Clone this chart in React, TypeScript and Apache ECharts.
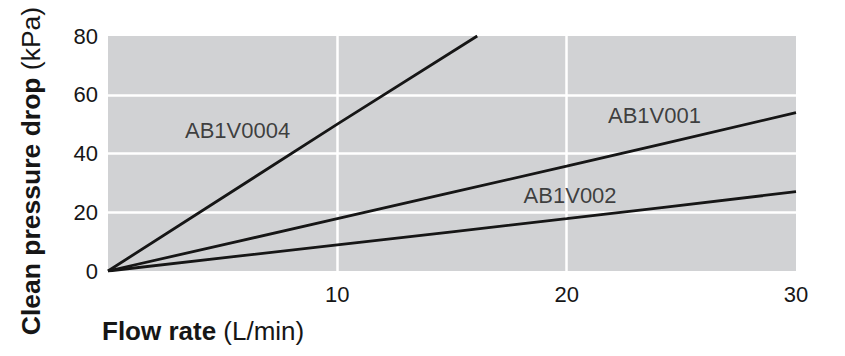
import React, { useEffect, useRef } from "react";
import * as echarts from "echarts";

const xTicks = [0, 10, 20, 30];
const yTicks = [0, 20, 40, 60, 80];

const ab1v0004: [number, number][] = [[0, 0], [10, 50], [16.1, 80]];
const ab1v001: [number, number][] = [[0, 0], [10, 17.8], [20, 35.7], [30, 53.9]];
const ab1v002: [number, number][] = [[0, 0], [10, 8.9], [20, 17.8], [30, 27]];

const seriesLabels = [
  { name: "AB1V0004", value: [5.65, 48.0] },
  { name: "AB1V001", value: [23.83, 52.9] },
  { name: "AB1V002", value: [20.15, 25.7] },
];

const FONT = "'Liberation Sans', Arial, Helvetica, sans-serif";
const INK = "#161616";

export default function App() {
  const ref = useRef<HTMLDivElement>(null);
  useEffect(() => {
    if (!ref.current) return;
    const chart = echarts.init(ref.current, undefined, { renderer: "svg" });
    const lineStyle = { color: INK, width: 2.8 };
    chart.setOption({
      animation: false,
      textStyle: { fontFamily: FONT },
      grid: {
        left: 108,
        right: 49,
        top: 36,
        bottom: 85,
        show: true,
        backgroundColor: "#d1d2d4",
        borderWidth: 0,
        outerBoundsMode: "none",
        containLabel: false,
      },
      graphic: [
        {
          type: "text",
          x: 31,
          y: 171,
          rotation: Math.PI / 2,
          style: {
            text: "{b|Clean pressure drop }{n|(kPa)}",
            align: "center",
            verticalAlign: "middle",
            rich: {
              b: { fontSize: 26.5, fontWeight: "bold", fill: INK, fontFamily: FONT },
              n: { fontSize: 26.5, fill: INK, fontFamily: FONT },
            },
          },
        },
      ],
      xAxis: {
        type: "value",
        min: xTicks[0],
        max: xTicks[xTicks.length - 1],
        interval: 10,
        axisLine: { show: false },
        axisTick: { show: false },
        axisLabel: {
          color: INK,
          fontSize: 22,
          fontFamily: FONT,
          margin: 12,
          formatter: (v: number) => (v === 0 ? "" : String(v)),
        },
        splitLine: {
          show: true,
          lineStyle: { color: ["rgba(0,0,0,0)", "#ffffff", "#ffffff", "rgba(0,0,0,0)"], width: 2.5 },
        },
        name: "{b|Flow rate }{n|(L/min)}",
        nameLocation: "start",
        nameGap: 0,
        nameTextStyle: {
          align: "left",
          verticalAlign: "top",
          padding: [47, 0, 0, -6],
          rich: {
            b: { fontSize: 26, fontWeight: "bold", color: INK, fontFamily: FONT },
            n: { fontSize: 26, color: INK, fontFamily: FONT },
          },
        },
      },
      yAxis: {
        type: "value",
        min: yTicks[0],
        max: yTicks[yTicks.length - 1],
        interval: 20,
        axisLine: { show: false },
        axisTick: { show: false },
        axisLabel: { color: INK, fontSize: 22, fontFamily: FONT, margin: 10 },
        splitLine: {
          show: true,
          lineStyle: {
            color: ["rgba(0,0,0,0)", "#ffffff", "#ffffff", "#ffffff", "rgba(0,0,0,0)"],
            width: 2.5,
          },
        },
      },
      series: [
        { type: "line", data: ab1v0004, showSymbol: false, lineStyle, smooth: false },
        { type: "line", data: ab1v001, showSymbol: false, lineStyle, smooth: 0.3 },
        { type: "line", data: ab1v002, showSymbol: false, lineStyle, smooth: 0.3 },
        {
          type: "scatter",
          data: seriesLabels,
          symbolSize: 0,
          label: {
            show: true,
            position: "inside",
            formatter: (p: any) => p.name,
            color: INK,
            fontSize: 22,
            fontFamily: FONT,
          },
        },
      ],
    });
    return () => chart.dispose();
  }, []);
  return <div ref={ref} style={{ width: 845, height: 356, position: "absolute", left: 0, top: 0 }} />;
}
